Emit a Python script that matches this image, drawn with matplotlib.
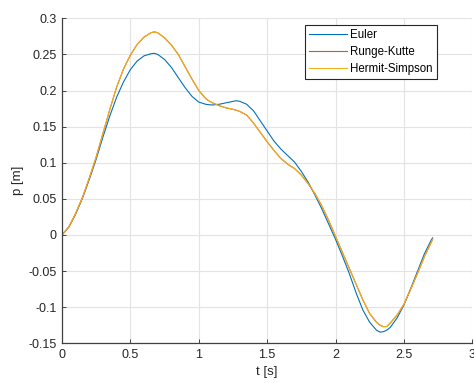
import numpy as np
import matplotlib
matplotlib.use('Agg')
import matplotlib.pyplot as plt

# values (extra readings near peaks and troughs)
t = [0.00, 0.05, 0.10, 0.15, 0.20, 0.25, 0.30, 0.35, 0.40, 0.45,
     0.50, 0.55, 0.60, 0.65, 0.675, 0.70, 0.75, 0.80, 0.85, 0.90, 0.95,
     1.00, 1.05, 1.075, 1.10, 1.15, 1.20, 1.25, 1.275, 1.30, 1.35, 1.40, 1.45,
     1.50, 1.55, 1.60, 1.65, 1.70, 1.75, 1.80, 1.85, 1.90, 1.95,
     2.00, 2.05, 2.10, 2.15, 2.20, 2.25, 2.30, 2.325, 2.35, 2.375, 2.40, 2.45,
     2.50, 2.55, 2.60, 2.65, 2.70, 2.71]

p_euler = [0.000, 0.011, 0.029, 0.051, 0.077, 0.105, 0.136, 0.165, 0.191, 0.212,
           0.229, 0.241, 0.248, 0.251, 0.2515, 0.250, 0.243, 0.232, 0.218, 0.204, 0.192,
           0.184, 0.181, 0.1803, 0.180, 0.181, 0.183, 0.185, 0.1858, 0.185, 0.181, 0.172, 0.158,
           0.144, 0.130, 0.119, 0.110, 0.101, 0.088, 0.073, 0.055, 0.036, 0.015,
           -0.006, -0.029, -0.053, -0.080, -0.104, -0.121, -0.132, -0.1345, -0.134, -0.1318, -0.128, -0.115,
           -0.097, -0.074, -0.050, -0.026, -0.007, -0.004]

p_rk = [0.000, 0.011, 0.030, 0.052, 0.079, 0.108, 0.141, 0.174, 0.205, 0.230,
        0.249, 0.264, 0.274, 0.280, 0.2812, 0.280, 0.273, 0.263, 0.250, 0.233, 0.216,
        0.200, 0.189, 0.1855, 0.183, 0.179, 0.176, 0.174, 0.1727, 0.171, 0.166, 0.155, 0.142,
        0.129, 0.117, 0.106, 0.098, 0.092, 0.083, 0.071, 0.057, 0.040, 0.020,
        -0.002, -0.024, -0.046, -0.068, -0.090, -0.109, -0.121, -0.1248, -0.127, -0.1268, -0.122, -0.111,
        -0.096, -0.075, -0.053, -0.030, -0.010, -0.006]

p_hs = [0.000, 0.011, 0.030, 0.052, 0.079, 0.108, 0.141, 0.174, 0.205, 0.230,
        0.249, 0.264, 0.274, 0.280, 0.2812, 0.280, 0.273, 0.263, 0.250, 0.233, 0.216,
        0.200, 0.189, 0.1855, 0.183, 0.179, 0.176, 0.174, 0.1727, 0.171, 0.166, 0.155, 0.142,
        0.129, 0.117, 0.106, 0.098, 0.092, 0.083, 0.071, 0.057, 0.040, 0.020,
        -0.002, -0.024, -0.046, -0.068, -0.090, -0.109, -0.121, -0.1248, -0.127, -0.1268, -0.122, -0.111,
        -0.096, -0.075, -0.053, -0.030, -0.010, -0.006]

xticks = [0, 0.5, 1, 1.5, 2, 2.5, 3]
xticklabels = ['0', '0.5', '1', '1.5', '2', '2.5', '3']
yticks = [-0.15, -0.1, -0.05, 0, 0.05, 0.1, 0.15, 0.2, 0.25, 0.3]
yticklabels = ['-0.15', '-0.1', '-0.05', '0', '0.05', '0.1', '0.15', '0.2', '0.25', '0.3']

plt.rcParams['font.family'] = ['Liberation Sans', 'DejaVu Sans']
plt.rcParams['axes.unicode_minus'] = False

fig = plt.figure(figsize=(4.74, 3.83), dpi=100)
ax = fig.add_axes([0.1308, 0.1037, 0.8656, 0.8485])

ax.plot(t, p_euler, color='#0072BD', lw=0.8, label='Euler', solid_joinstyle='round')
ax.plot(t, p_rk, color='#D95319', lw=0.8, label='Runge-Kutte', solid_joinstyle='round')
ax.plot(t, p_hs, color='#EDB120', lw=0.8, label='Hermit-Simpson', solid_joinstyle='round')

ax.set_xlim(0, 3)
ax.set_ylim(-0.15, 0.3)
ax.set_xticks(xticks)
ax.set_xticklabels(xticklabels)
ax.set_yticks(yticks)
ax.set_yticklabels(yticklabels)
ax.grid(True, color='#e3e3e3', lw=0.8)
ax.set_axisbelow(True)

for s in ['top', 'right']:
    ax.spines[s].set_visible(False)
for s in ['left', 'bottom']:
    ax.spines[s].set_color('#404040')
    ax.spines[s].set_linewidth(0.9)
ax.tick_params(direction='in', length=3, width=0.7, color='#404040',
               labelsize=9, labelcolor='#262626', pad=4)

ax.set_xlabel('t [s]', fontsize=9.5, color='#262626', labelpad=4)
ax.set_ylabel('p [m]', fontsize=9.5, color='#262626', labelpad=3)

leg = ax.legend(loc='upper left', bbox_to_anchor=(0.643, 0.934),
                bbox_transform=fig.transFigure, borderaxespad=0,
                fontsize=8.3, fancybox=False, framealpha=1, edgecolor='#262626',
                handlelength=3.3, handletextpad=0.3, borderpad=0.35,
                labelspacing=0.4)
leg.get_frame().set_linewidth(0.8)

fig.savefig('out.png', dpi=100)
